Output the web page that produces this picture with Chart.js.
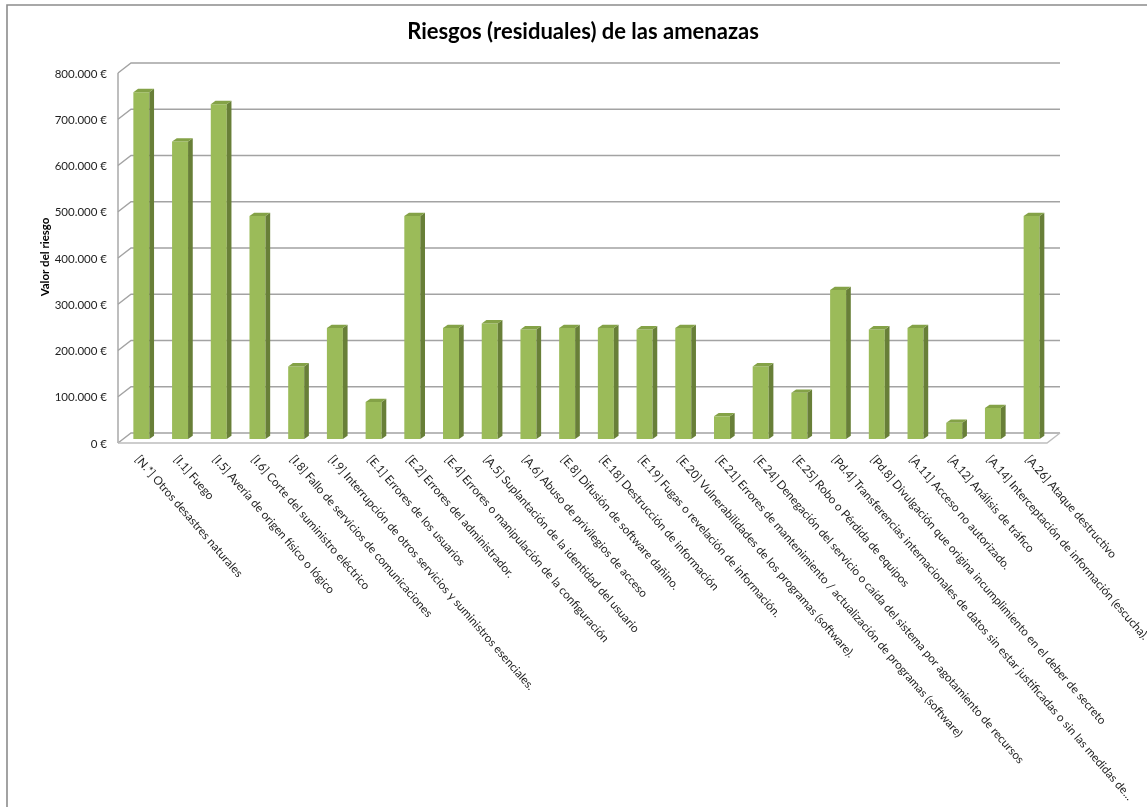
<!DOCTYPE html>
<html lang="es">
<head>
<meta charset="utf-8">
<title>Riesgos (residuales) de las amenazas</title>
<script src="https://cdn.jsdelivr.net/npm/chart.js@4.4.1/dist/chart.umd.min.js"></script>
<style>
  html, body { margin: 0; padding: 0; background: #ffffff; }
  #wrap { width: 1147px; height: 807px; position: relative; overflow: hidden; }
  canvas { display: block; }
</style>
</head>
<body>
<div id="wrap"><canvas id="grafico" width="1147" height="807"></canvas></div>
<script>
// Amenazas evaluadas (eje de categorías)
const categorias = [
  "[N.*] Otros desastres naturales",
  "[I.1] Fuego",
  "[I.5] Avería de origen físico o lógico",
  "[I.6] Corte del suministro eléctrico",
  "[I.8] Fallo de servicios de comunicaciones",
  "[I.9] Interrupción de otros servicios y suministros esenciales.",
  "[E.1] Errores de los usuarios",
  "[E.2] Errores del administrador.",
  "[E.4] Errores o manipulación de la configuración",
  "[A.5] Suplantación de la identidad del usuario",
  "[A.6] Abuso de privilegios de acceso",
  "[E.8] Difusión de software dañino.",
  "[E.18] Destrucción de información",
  "[E.19] Fugas o revelación de información.",
  "[E.20] Vulnerabilidades de los programas (software).",
  "[E.21] Errores de mantenimiento / actualización de programas (software)",
  "[E.24] Denegación del servicio o caída del sistema por agotamiento de recursos",
  "[E.25] Robo o Pérdida de equipos",
  "[Pd.4] Transferencias internacionales de datos sin estar justificadas o sin las medidas de...",
  "[Pd.8] Divulgación que origina incumplimiento en el deber de secreto",
  "[A.11] Acceso no autorizado.",
  "[A.12] Análisis de tráfico",
  "[A.14] Interceptación de información (escucha).",
  "[A.26] Ataque destructivo"
];

// Riesgo residual de cada amenaza, en euros
const riesgoResidual = [
  750000, 643000, 724000, 482000, 157000, 240000, 80000, 482000,
  240000, 250000, 237000, 240000, 240000, 237000, 240000, 49000,
  157000, 100000, 322000, 237000, 240000, 35000, 67000, 482000
];

// Marcas del eje de valores
const marcasValor = [0, 100000, 200000, 300000, 400000, 500000, 600000, 700000, 800000];

const titulo = "Riesgos (residuales) de las amenazas";
const tituloEjeY = "Valor del riesgo";

const FUENTE = "Lato, 'Open Sans', sans-serif";

function formatoEuros(v) {
  const s = Math.round(v).toString().replace(/\B(?=(\d{3})+(?!\d))/g, ".");
  return s + " \u20AC";
}

// Geometría de la vista en perspectiva
const FONDO = { dx: 13, dy: -10 };   // desplazamiento de la pared del fondo
const BARRA = { dx: 4, dy: -4 };     // posición de las columnas dentro del suelo
const PROF = { dx: 4.7, dy: -3.3 };  // profundidad de cada columna

const COLOR_FRENTE = "#9BBB59";
const COLOR_LADO = "#687F38";
const COLOR_TAPA = "#84A247";
const COLOR_REJILLA = "#A3A3A3";
const COLOR_SUELO = "#BDBDBD";

const escena3D = {
  id: "escena3D",
  beforeDraw(chart) {
    const { ctx, chartArea: a, scales } = chart;
    const y = scales.y;
    ctx.save();
    ctx.fillStyle = "#ffffff";
    ctx.fillRect(0, 0, chart.width, chart.height);

    // marco exterior
    ctx.strokeStyle = "#8C8C8C";
    ctx.lineWidth = 1.6;
    ctx.beginPath();
    ctx.moveTo(7, chart.height + 2);
    ctx.lineTo(7, 5);
    ctx.lineTo(chart.width + 2, 5);
    ctx.stroke();

    // pared del fondo y pared lateral
    ctx.strokeStyle = COLOR_REJILLA;
    ctx.lineWidth = 1.4;
    marcasValor.forEach(v => {
      const py = y.getPixelForValue(v);
      ctx.beginPath();
      ctx.moveTo(a.left, py);
      ctx.lineTo(a.left + FONDO.dx, py + FONDO.dy);
      ctx.lineTo(a.right + FONDO.dx, py + FONDO.dy);
      ctx.stroke();
    });

    // eje frontal
    ctx.beginPath();
    ctx.moveTo(a.left, y.getPixelForValue(marcasValor[marcasValor.length - 1]));
    ctx.lineTo(a.left, y.getPixelForValue(0));
    ctx.stroke();

    // suelo
    const p0 = y.getPixelForValue(0);
    ctx.strokeStyle = COLOR_SUELO;
    ctx.lineWidth = 1.4;
    ctx.beginPath();
    ctx.moveTo(a.left, p0);
    ctx.lineTo(a.right, p0);
    ctx.lineTo(a.right + FONDO.dx, p0 + FONDO.dy);
    ctx.stroke();
    ctx.restore();
  },
  beforeDatasetsDraw(chart) {
    chart.ctx.save();
    chart.ctx.translate(BARRA.dx, BARRA.dy);
  },
  afterDatasetsDraw(chart) {
    const ctx = chart.ctx;
    const meta = chart.getDatasetMeta(0);
    meta.data.forEach(bar => {
      const { x, y, base, width } = bar.getProps(["x", "y", "base", "width"], true);
      const l = x - width / 2, r = x + width / 2;
      // cara lateral
      ctx.fillStyle = COLOR_LADO;
      ctx.beginPath();
      ctx.moveTo(r, y);
      ctx.lineTo(r + PROF.dx, y + PROF.dy);
      ctx.lineTo(r + PROF.dx, base + PROF.dy);
      ctx.lineTo(r, base);
      ctx.closePath();
      ctx.fill();
      // cara superior
      ctx.fillStyle = COLOR_TAPA;
      ctx.beginPath();
      ctx.moveTo(l, y);
      ctx.lineTo(l + PROF.dx, y + PROF.dy);
      ctx.lineTo(r + PROF.dx, y + PROF.dy);
      ctx.lineTo(r, y);
      ctx.closePath();
      ctx.fill();
    });
    ctx.restore();
  },
  afterDraw(chart) {
    const { ctx, chartArea: a, scales } = chart;
    const y = scales.y, x = scales.x;
    ctx.save();
    ctx.fillStyle = "#000000";

    // título
    ctx.font = "bold 22px " + FUENTE;
    ctx.textAlign = "center";
    ctx.textBaseline = "middle";
    ctx.fillText(titulo, 583, 32);

    // etiquetas del eje de valores
    ctx.font = "11.5px " + FUENTE;
    ctx.fillStyle = "#1e1e1e";
    ctx.textAlign = "right";
    marcasValor.forEach(v => {
      ctx.fillText(formatoEuros(v), a.left - 11, y.getPixelForValue(v) + 1);
    });

    // título del eje de valores
    ctx.save();
    ctx.font = "bold 11.5px " + FUENTE;
    ctx.fillStyle = "#000000";
    ctx.textAlign = "center";
    ctx.translate(45, 257);
    ctx.rotate(-Math.PI / 2);
    ctx.fillText(tituloEjeY, 0, 0);
    ctx.restore();

    // etiquetas de categorías, inclinadas hacia abajo
    ctx.font = "11.7px " + FUENTE;
    ctx.fillStyle = "#1e1e1e";
    ctx.textAlign = "left";
    ctx.textBaseline = "middle";
    const ang = 49 * Math.PI / 180;
    categorias.forEach((txt, i) => {
      const px = x.getPixelForValue(i) + BARRA.dx - 4;
      ctx.save();
      ctx.translate(px, y.getPixelForValue(0) + 14);
      ctx.rotate(ang);
      ctx.fillText(txt, 0, 0);
      ctx.restore();
    });
    ctx.restore();
  }
};

new Chart(document.getElementById("grafico"), {
  type: "bar",
  data: {
    labels: categorias,
    datasets: [{
      label: "Valor del riesgo",
      data: riesgoResidual,
      backgroundColor: COLOR_FRENTE,
      borderWidth: 0,
      barPercentage: 0.413,
      categoryPercentage: 1.0
    }]
  },
  options: {
    responsive: false,
    animation: false,
    layout: { padding: { left: 118, right: 100, top: 73, bottom: 364 } },
    plugins: {
      legend: { display: false },
      title: { display: false },
      tooltip: { enabled: false }
    },
    scales: {
      x: { display: false },
      y: { display: false, min: 0, max: 800000, ticks: { stepSize: 100000 } }
    }
  },
  plugins: [escena3D]
});
</script>
</body>
</html>
